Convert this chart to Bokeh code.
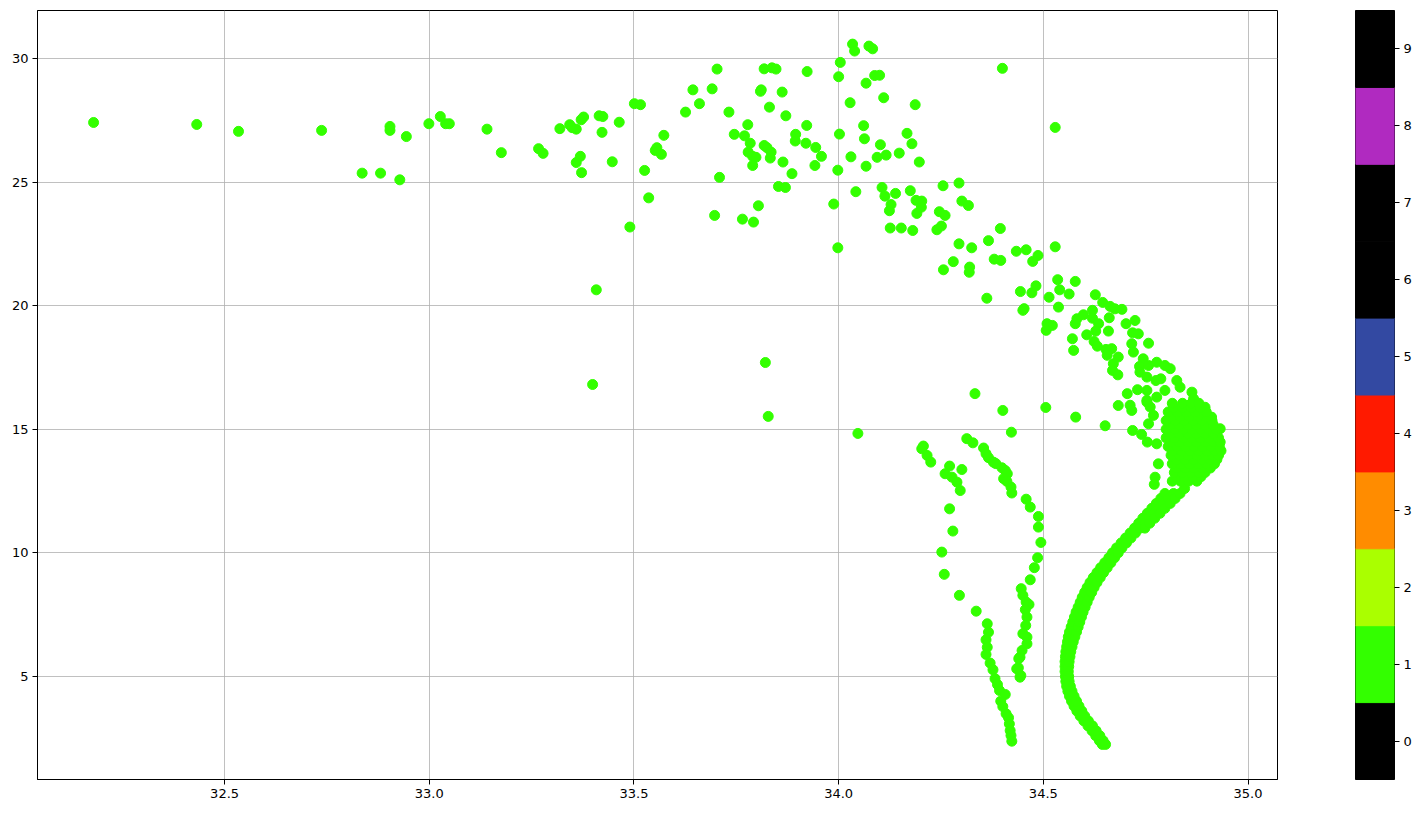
from bokeh.plotting import figure
from bokeh.layouts import row
from bokeh.models import FixedTicker, PrintfTickFormatter, Range1d, ColumnDataSource
from bokeh.embed import file_html
from bokeh.resources import INLINE

# ---------------- data (salinity, temperature) ----------------
upper_pts = [
    (32.180, 27.41), (32.432, 27.33), (32.534, 27.05), (32.737, 27.09),
    (32.836, 25.36), (32.881, 25.36), (32.904, 27.25), (32.904, 27.09),
    (32.928, 25.09), (32.944, 26.84), (32.999, 27.36), (33.027, 27.65),
    (33.040, 27.36), (33.049, 27.36), (33.141, 27.14), (33.176, 26.19),
    (33.267, 26.35), (33.278, 26.16), (33.319, 27.16), (33.343, 27.32),
    (33.349, 27.20), (33.359, 27.14), (33.371, 27.52), (33.377, 27.63),
    (33.359, 25.79), (33.369, 26.04), (33.372, 25.38), (33.415, 27.68),
    (33.424, 27.65), (33.422, 27.01), (33.447, 25.82), (33.464, 27.42),
    (33.501, 28.17), (33.516, 28.13), (33.626, 27.83), (33.573, 26.89),
    (33.552, 26.28), (33.556, 26.39), (33.567, 26.12), (33.526, 25.47),
    (33.536, 24.36), (33.490, 23.18), (33.408, 20.64), (33.399, 16.81),
    (33.644, 28.73), (33.660, 28.17), (33.691, 28.77), (33.703, 29.57),
    (33.709, 25.19), (33.697, 23.65), (33.732, 27.83), (33.745, 26.93),
    (33.770, 26.87), (33.778, 27.32), (33.784, 26.57), (33.779, 26.21),
    (33.790, 26.04), (33.798, 26.00), (33.790, 25.67), (33.809, 28.67),
    (33.811, 28.73), (33.818, 29.58), (33.837, 29.62), (33.847, 29.57),
    (33.831, 28.03), (33.818, 26.48), (33.825, 26.39), (33.835, 26.21),
    (33.833, 25.97), (33.864, 25.81), (33.862, 28.64), (33.871, 27.68),
    (33.886, 25.34), (33.853, 24.82), (33.870, 24.78), (33.804, 24.04),
    (33.765, 23.50), (33.792, 23.38), (33.895, 26.93), (33.894, 26.66),
    (33.920, 26.57), (33.922, 27.29), (33.944, 26.40), (33.958, 26.04),
    (33.942, 25.67), (33.923, 29.47), (33.998, 25.48), (33.988, 24.11),
    (33.998, 22.34), (34.000, 29.26), (34.004, 29.84), (34.034, 30.58),
    (34.039, 30.30), (34.074, 30.50), (34.083, 30.39), (34.002, 26.94),
    (34.028, 28.21), (34.030, 26.02), (34.042, 24.61), (34.067, 29.00),
    (34.088, 29.31), (34.100, 29.32), (34.061, 27.28), (34.063, 26.75),
    (34.067, 25.64), (34.094, 26.00), (34.116, 26.09), (34.102, 26.51),
    (34.110, 28.41), (34.187, 28.13), (34.167, 26.97), (34.179, 26.55),
    (34.148, 26.17), (34.197, 25.81), (34.106, 24.78), (34.113, 24.43),
    (34.139, 24.54), (34.128, 24.09), (34.124, 23.84), (34.126, 23.14),
    (34.153, 23.14), (34.181, 23.04), (34.175, 24.65), (34.189, 24.26),
    (34.203, 24.23), (34.202, 23.98), (34.191, 23.73), (34.255, 24.85),
    (34.294, 24.96), (34.246, 23.80), (34.260, 23.65), (34.240, 23.07),
    (34.251, 23.22), (34.301, 24.23), (34.317, 24.05), (34.294, 22.50),
    (34.325, 22.34), (34.400, 29.60), (34.529, 27.21), (33.821, 17.70),
    (33.828, 15.52), (34.047, 14.83),
]

arc_pts = [
    (34.395, 23.12), (34.366, 22.63), (34.280, 21.78), (34.256, 21.45),
    (34.320, 21.56), (34.319, 21.35), (34.380, 21.88), (34.396, 21.83),
    (34.434, 22.20), (34.458, 22.26), (34.487, 22.03), (34.474, 21.79),
    (34.529, 22.38), (34.362, 20.30), (34.444, 20.57), (34.472, 20.52),
    (34.482, 20.80), (34.514, 20.34), (34.535, 21.05), (34.540, 20.64),
    (34.563, 20.47), (34.578, 20.98), (34.537, 19.94), (34.450, 19.81),
    (34.453, 19.88), (34.509, 19.27), (34.522, 19.20), (34.507, 19.00),
    (34.571, 18.66), (34.574, 18.19), (34.578, 19.27), (34.582, 19.47),
    (34.598, 19.63), (34.606, 18.82), (34.620, 19.81), (34.620, 19.49),
    (34.635, 19.27), (34.628, 18.97), (34.627, 20.44), (34.645, 20.13),
    (34.663, 19.97), (34.675, 19.87), (34.692, 19.85), (34.661, 19.51),
    (34.659, 18.97), (34.624, 18.55), (34.632, 18.36), (34.653, 18.23),
    (34.667, 18.26), (34.656, 17.99), (34.671, 17.65), (34.669, 17.38),
    (34.682, 17.20), (34.683, 17.92), (34.333, 16.44), (34.401, 15.76),
    (34.506, 15.88), (34.579, 15.49), (34.651, 15.14), (34.683, 15.96),
    (34.422, 14.88), (34.702, 19.27), (34.724, 19.40), (34.718, 18.90),
    (34.732, 18.86), (34.716, 18.46), (34.720, 18.12), (34.757, 18.48),
    (34.744, 17.85), (34.735, 17.54), (34.736, 17.31), (34.757, 17.58),
    (34.777, 17.71), (34.797, 17.58), (34.810, 17.45), (34.775, 16.97),
    (34.787, 17.04), (34.797, 16.57), (34.826, 16.97), (34.834, 16.70),
    (34.730, 16.60), (34.753, 16.57), (34.705, 16.44), (34.863, 16.50),
    (34.867, 16.23), (34.777, 16.30), (34.753, 16.17), (34.761, 15.90),
    (34.712, 15.97), (34.716, 15.76), (34.895, 15.89), (34.911, 15.49),
    (34.932, 15.02), (34.718, 14.95), (34.740, 14.79), (34.754, 14.48),
    (34.777, 14.41), (34.781, 13.60), (34.773, 13.06), (34.771, 12.77),
    (34.753, 17.11), (34.753, 16.10), (34.769, 15.56), (34.757, 15.22),
]

branch_pts = [
    (34.313, 14.62), (34.328, 14.45), (34.354, 14.24), (34.207, 14.32),
    (34.203, 14.21), (34.216, 13.94), (34.225, 13.67), (34.360, 14.01),
    (34.366, 13.85), (34.378, 13.67), (34.384, 13.61), (34.399, 13.44),
    (34.407, 13.33), (34.412, 13.20), (34.403, 13.00), (34.411, 12.89),
    (34.421, 12.66), (34.423, 12.42), (34.458, 12.17), (34.468, 11.85),
    (34.488, 11.47), (34.488, 11.04), (34.494, 10.42), (34.486, 9.80),
    (34.478, 9.40), (34.468, 8.91), (34.446, 8.55), (34.450, 8.28),
    (34.458, 8.01), (34.465, 7.91), (34.456, 7.70), (34.460, 7.40),
    (34.457, 7.06), (34.450, 6.73), (34.460, 6.59), (34.460, 6.32),
    (34.448, 6.05), (34.443, 5.78), (34.439, 5.35), (34.445, 5.04),
    (34.440, 5.72), (34.435, 5.31), (34.443, 4.97), (34.271, 13.51),
    (34.260, 13.20), (34.277, 13.06), (34.301, 13.37), (34.289, 12.86),
    (34.297, 12.52), (34.271, 11.78), (34.279, 10.88), (34.252, 10.03),
    (34.258, 9.13), (34.295, 8.28), (34.336, 7.64), (34.363, 7.13),
    (34.366, 6.79), (34.360, 6.48), (34.363, 6.18), (34.360, 5.89),
    (34.370, 5.54), (34.377, 5.27), (34.382, 4.91), (34.388, 4.67),
    (34.393, 4.43), (34.407, 4.27), (34.396, 4.00), (34.401, 3.78),
    (34.409, 3.49), (34.415, 3.33), (34.417, 3.08), (34.419, 2.81),
    (34.421, 2.61), (34.423, 2.38),
]

curve_temp = [2.25, 2.4, 2.6, 2.8, 3.0, 3.2, 3.4, 3.6, 3.8, 4.0, 4.2, 4.4, 4.6,
              4.8, 5.0, 5.2, 5.4, 5.6, 5.8, 6.0, 6.2, 6.4, 6.6, 6.8, 7.0, 7.2,
              7.4, 7.6, 7.8, 8.0, 8.2, 8.4, 8.6, 8.8, 9.0, 9.2, 9.4, 9.6, 9.8,
              10.0, 10.2, 10.4, 10.6, 10.8, 11.0, 11.2, 11.4, 11.6, 11.8, 12.0,
              12.2, 12.4]
curve_sal_left = [34.644, 34.637, 34.628, 34.619, 34.609, 34.599, 34.590, 34.582,
                  34.575, 34.569, 34.564, 34.560, 34.557, 34.555, 34.554, 34.553,
                  34.553, 34.553, 34.554, 34.555, 34.557, 34.559, 34.561, 34.564,
                  34.568, 34.572, 34.576, 34.580, 34.585, 34.590, 34.595, 34.601,
                  34.607, 34.614, 34.622, 34.631, 34.640, 34.650, 34.660, 34.669,
                  34.679, 34.690, 34.701, 34.712, 34.723, 34.733, 34.743, 34.754,
                  34.765, 34.776, 34.787, 34.797]
curve_sal_right = [34.652, 34.646, 34.638, 34.629, 34.620, 34.610, 34.601, 34.594,
                   34.587, 34.581, 34.575, 34.570, 34.566, 34.563, 34.562, 34.561,
                   34.562, 34.563, 34.565, 34.567, 34.570, 34.573, 34.577, 34.581,
                   34.585, 34.589, 34.593, 34.597, 34.602, 34.607, 34.612, 34.618,
                   34.624, 34.631, 34.639, 34.647, 34.656, 34.665, 34.674, 34.683,
                   34.692, 34.703, 34.714, 34.725, 34.737, 34.748, 34.759, 34.770,
                   34.782, 34.794, 34.806, 34.818]
outer_temp = [11.0, 11.2, 11.4, 11.6, 11.8, 12.0, 12.2, 12.4, 12.6]
outer_sal = [34.748, 34.760, 34.772, 34.785, 34.797, 34.810, 34.822, 34.834, 34.845]

blob_temp = [12.9, 13.08, 13.25, 13.43, 13.6, 13.78, 13.95, 14.13, 14.3, 14.48,
             14.65, 14.83, 15.0, 15.18, 15.35, 15.53, 15.7, 15.88, 16.05]
blob_sal = [
    [34.815, 34.835, 34.855, 34.875],
    [34.825, 34.845, 34.865, 34.885],
    [34.820, 34.840, 34.860, 34.880, 34.895],
    [34.826, 34.847, 34.868, 34.889, 34.908],
    [34.815, 34.836, 34.857, 34.878, 34.899, 34.918],
    [34.825, 34.846, 34.867, 34.888, 34.908, 34.924],
    [34.812, 34.833, 34.854, 34.875, 34.896, 34.914, 34.928],
    [34.816, 34.837, 34.858, 34.879, 34.900, 34.920, 34.934],
    [34.805, 34.826, 34.847, 34.868, 34.889, 34.910, 34.930],
    [34.811, 34.832, 34.853, 34.874, 34.895, 34.916, 34.932],
    [34.800, 34.821, 34.842, 34.863, 34.884, 34.905, 34.928],
    [34.811, 34.832, 34.853, 34.874, 34.895, 34.916],
    [34.800, 34.821, 34.842, 34.863, 34.884, 34.905, 34.922],
    [34.811, 34.832, 34.853, 34.874, 34.895, 34.915],
    [34.800, 34.822, 34.844, 34.866, 34.888, 34.912],
    [34.812, 34.834, 34.856, 34.878, 34.900],
    [34.805, 34.827, 34.849, 34.871, 34.898],
    [34.818, 34.840, 34.862, 34.884],
    [34.815, 34.840, 34.862, 34.880],
]

cbar_levels = [0, 1, 2, 3, 4, 5, 6, 7, 8, 9]
cbar_colors = ["#000000", "#33ff00", "#aaff00", "#ff8c00", "#ff1a00",
               "#3349a2", "#000000", "#000000", "#b02ac0", "#000000"]
point_level = 1

x_ticks = [32.5, 33.0, 33.5, 34.0, 34.5, 35.0]
y_ticks = [5, 10, 15, 20, 25, 30]

# ---------------- assemble ----------------
sal, temp = [], []
for grp in (upper_pts, arc_pts, branch_pts):
    for s, t in grp:
        sal.append(s)
        temp.append(t)
sal += curve_sal_left + curve_sal_right + outer_sal
temp += curve_temp + curve_temp + outer_temp
for t, row_s in zip(blob_temp, blob_sal):
    for s in row_s:
        sal.append(s)
        temp.append(t)

point_color = cbar_colors[cbar_levels.index(point_level)]

FONT = "DejaVu Sans"
FS = "13px"
H = 809

p = figure(width=1287, height=H, output_backend="svg", toolbar_location=None,
           x_range=Range1d(32.043, 35.072), y_range=Range1d(0.83, 31.94),
           min_border_left=37, min_border_right=10, min_border_top=10,
           min_border_bottom=30)
p.scatter(sal, temp, size=10, fill_color=point_color, line_color=point_color)

p.outline_line_color = "black"
p.outline_line_alpha = 1
p.outline_line_width = 1
for ax in (p.xaxis, p.yaxis):
    ax.axis_line_color = "black"
    ax.major_tick_line_color = "black"
    ax.major_tick_out = 5
    ax.major_tick_in = 0
    ax.minor_tick_line_color = None
    ax.major_label_text_font = FONT
    ax.major_label_text_font_size = FS
    ax.major_label_text_color = "black"
    ax.major_label_standoff = 4
p.xaxis.ticker = FixedTicker(ticks=x_ticks)
p.xaxis.formatter = PrintfTickFormatter(format="%.1f")
p.yaxis.ticker = FixedTicker(ticks=y_ticks)
p.yaxis.formatter = PrintfTickFormatter(format="%d")
p.grid.grid_line_color = "#b0b0b0"
p.grid.grid_line_width = 0.8
p.background_fill_color = "white"
p.border_fill_color = "white"

# colour bar as its own small figure
cb = figure(width=129, height=H, output_backend="svg", toolbar_location=None,
            x_range=Range1d(0, 1), y_range=Range1d(-0.5, 9.5),
            x_axis_location=None, y_axis_location="right",
            min_border_left=68, min_border_right=22, min_border_top=10,
            min_border_bottom=30)
src = ColumnDataSource(dict(y=cbar_levels, c=cbar_colors))
cb.rect(x=0.5, y="y", width=1, height=1, fill_color="c", line_color="c",
        line_width=1, source=src)
cb.grid.grid_line_color = None
cb.outline_line_color = "black"
cb.outline_line_alpha = 1
cb.yaxis.ticker = FixedTicker(ticks=cbar_levels)
cb.yaxis.axis_line_color = None
cb.yaxis.major_tick_line_color = "black"
cb.yaxis.major_tick_out = 5
cb.yaxis.major_tick_in = 0
cb.yaxis.minor_tick_line_color = None
cb.yaxis.major_label_text_font = FONT
cb.yaxis.major_label_text_font_size = FS
cb.yaxis.major_label_text_color = "black"
cb.yaxis.major_label_standoff = 4

layout = row(p, cb)
open("out.html", "w").write(file_html(layout, INLINE))
